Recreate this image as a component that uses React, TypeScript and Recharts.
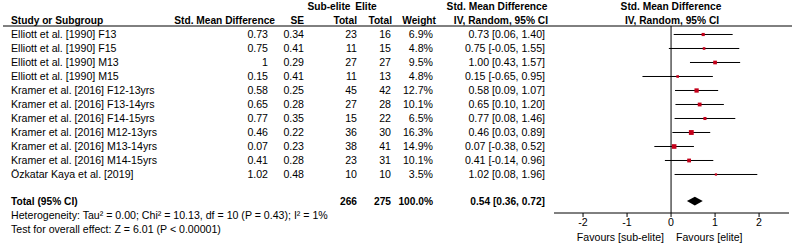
import React from 'react';
import {
  ScatterChart,
  Scatter,
  XAxis,
  YAxis,
  ErrorBar,
  ReferenceLine,
  ReferenceArea,
} from 'recharts';

const studies = [
  'Elliott et al. [1990] F13',
  'Elliott et al. [1990] F15',
  'Elliott et al. [1990] M13',
  'Elliott et al. [1990] M15',
  'Kramer et al. [2016] F12-13yrs',
  'Kramer et al. [2016] F13-14yrs',
  'Kramer et al. [2016] F14-15yrs',
  'Kramer et al. [2016] M12-13yrs',
  'Kramer et al. [2016] M13-14yrs',
  'Kramer et al. [2016] M14-15yrs',
  'Özkatar Kaya et al. [2019]',
];
const smd = [0.73, 0.75, 1, 0.15, 0.58, 0.65, 0.77, 0.46, 0.07, 0.41, 1.02];
const se = [0.34, 0.41, 0.29, 0.41, 0.25, 0.28, 0.35, 0.22, 0.23, 0.28, 0.48];
const subEliteTotal = [23, 11, 27, 11, 45, 27, 15, 36, 38, 23, 10];
const eliteTotal = [16, 15, 27, 13, 42, 28, 22, 30, 41, 31, 10];
const weights = [6.9, 4.8, 9.5, 4.8, 12.7, 10.1, 6.5, 16.3, 14.9, 10.1, 3.5];
const ciLow = [0.06, -0.05, 0.43, -0.65, 0.09, 0.1, 0.08, 0.03, -0.38, -0.14, 0.08];
const ciHigh = [1.4, 1.55, 1.57, 0.95, 1.07, 1.2, 1.46, 0.89, 0.52, 0.96, 1.96];

const totalSubElite = 266;
const totalElite = 275;
const totalEstimate = 0.54;
const totalLow = 0.36;
const totalHigh = 0.72;
const totalRow = 11.9;

const xTicks = [-2, -1, 0, 1, 2];

const heterogeneity = 'Heterogeneity: Tau² = 0.00; Chi² = 10.13, df = 10 (P = 0.43); I² = 1%';
const overallTest = 'Test for overall effect: Z = 6.01 (P < 0.00001)';

const rows = studies.map((name, i) => ({
  name,
  x: smd[i],
  y: i,
  err: [smd[i] - ciLow[i], ciHigh[i] - smd[i]],
  w: weights[i],
}));

const FONT = '"Liberation Sans", Arial, Helvetica, sans-serif';
const RED = '#c4001a';

const rowY = (i: number) => 34 + 14 * i;

const WeightSquare = (props: any) => {
  const { cx, cy, payload } = props;
  if (cx == null || cy == null) return null;
  const s = 1.2 * Math.sqrt(payload.w);
  return <rect x={cx - s / 2} y={cy - s / 2} width={s} height={s} fill={RED} />;
};

const Diamond = (props: any) => {
  const { x, y, width, height } = props;
  const mx = x + width / 2;
  const my = y + height / 2;
  return (
    <polygon
      points={`${x},${my} ${mx},${y} ${x + width},${my} ${mx},${y + height}`}
      fill="#000"
    />
  );
};

const Table = () => {
  const t = { fontFamily: FONT, fontSize: 10.6, fill: '#000' } as const;
  const b = { ...t, fontSize: 10.2, fontWeight: 700 } as const;
  return (
    <svg
      width={800}
      height={245}
      style={{ position: 'absolute', left: 0, top: 0, pointerEvents: 'none' }}
    >
      <g dominantBaseline="central">
        <text x={329} y={6} textAnchor="middle" {...b}>Sub-elite</text>
        <text x={366} y={6} textAnchor="middle" {...b}>Elite</text>
        <text x={497} y={6} textAnchor="middle" {...b}>Std. Mean Difference</text>
        <text x={671} y={6} textAnchor="middle" {...b}>Std. Mean Difference</text>

        <text x={11} y={20} {...b}>Study or Subgroup</text>
        <text x={275} y={20} textAnchor="end" {...b}>Std. Mean Difference</text>
        <text x={304} y={20} textAnchor="end" {...b}>SE</text>
        <text x={357} y={20} textAnchor="end" {...b}>Total</text>
        <text x={392} y={20} textAnchor="end" {...b}>Total</text>
        <text x={436} y={20} textAnchor="end" {...b}>Weight</text>
        <text x={548} y={20} textAnchor="end" {...b}>IV, Random, 95% CI</text>
        <text x={672} y={20} textAnchor="middle" {...b}>IV, Random, 95% CI</text>

        {studies.map((s, i) => (
          <g key={s}>
            <text x={11} y={rowY(i)} {...t}>{s}</text>
            <text x={268} y={rowY(i)} textAnchor="end" {...t}>{String(smd[i])}</text>
            <text x={304} y={rowY(i)} textAnchor="end" {...t}>{se[i].toFixed(2)}</text>
            <text x={357} y={rowY(i)} textAnchor="end" {...t}>{subEliteTotal[i]}</text>
            <text x={391} y={rowY(i)} textAnchor="end" {...t}>{eliteTotal[i]}</text>
            <text x={433} y={rowY(i)} textAnchor="end" {...t}>{weights[i].toFixed(1)}%</text>
            <text x={545} y={rowY(i)} textAnchor="end" {...t}>
              {`${smd[i].toFixed(2)} [${ciLow[i].toFixed(2)}, ${ciHigh[i].toFixed(2)}]`}
            </text>
          </g>
        ))}

        <text x={11} y={201} {...b}>Total (95% CI)</text>
        <text x={357} y={201} textAnchor="end" {...b}>{totalSubElite}</text>
        <text x={391} y={201} textAnchor="end" {...b}>{totalElite}</text>
        <text x={433} y={201} textAnchor="end" {...b}>100.0%</text>
        <text x={545} y={201} textAnchor="end" {...b}>
          {`${totalEstimate.toFixed(2)} [${totalLow.toFixed(2)}, ${totalHigh.toFixed(2)}]`}
        </text>
        <text x={11} y={215} {...t}>{heterogeneity}</text>
        <text x={11} y={229} {...t}>{overallTest}</text>

        <text x={664} y={237} textAnchor="end" {...t}>Favours [sub-elite]</text>
        <text x={676} y={237} {...t}>Favours [elite]</text>
      </g>
      <line x1={3} x2={792} y1={26} y2={26} stroke="#000" strokeWidth={1} />
    </svg>
  );
};

export default function App() {
  return (
    <div style={{ position: 'absolute', left: 0, top: 0, width: 800, height: 245, background: '#fff' }}>
      <ScatterChart
        width={800}
        height={245}
        margin={{ top: 26, right: 11, bottom: 2, left: 554 }}
      >
        <XAxis
          type="number"
          dataKey="x"
          domain={[-2.66, 2.68]}
          ticks={xTicks}
          allowDataOverflow
          height={30}
          tickSize={4}
          tickMargin={1}
          axisLine={{ stroke: '#000' }}
          tickLine={{ stroke: '#000' }}
          tick={{ fontSize: 10.6, fontFamily: FONT, fill: '#000' }}
        />
        <YAxis type="number" dataKey="y" domain={[-0.607, 12.75]} reversed hide allowDataOverflow />
        <ReferenceLine x={0} stroke="#000" strokeWidth={1} />
        <ReferenceArea
          x1={totalLow}
          x2={totalHigh}
          y1={totalRow - 0.31}
          y2={totalRow + 0.31}
          shape={Diamond}
        />
        <Scatter data={rows} shape={WeightSquare} isAnimationActive={false}>
          <ErrorBar dataKey="err" direction="x" width={0} stroke="#000" strokeWidth={1} />
        </Scatter>
      </ScatterChart>
      <Table />
    </div>
  );
}
